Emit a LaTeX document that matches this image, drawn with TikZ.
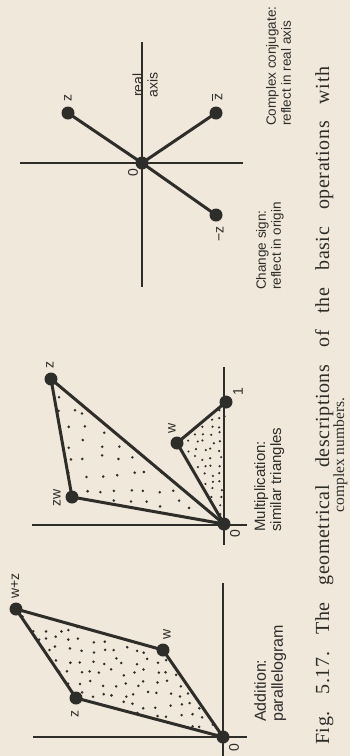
\documentclass[tikz,border=0pt]{standalone}
\usepackage{fontspec}
\setmainfont{Liberation Serif}
\setsansfont{Liberation Sans}
\definecolor{paper}{RGB}{240,232,218}
\definecolor{ink}{RGB}{45,45,42}
\newcommand\sfsz[2]{\sffamily\fontsize{#1}{#2}\selectfont}
\begin{document}
\begin{tikzpicture}[x=1pt,y=-1pt,
  axisline/.style={draw=ink,line width=1.7pt},
  polyline/.style={draw=ink,line width=3pt,line join=round,line cap=round},
  bigdot/.style={circle,fill=ink,minimum size=13pt,inner sep=0pt},
  ptlabel/.style={font=\sffamily\fontsize{14}{15}\selectfont,text=ink,rotate=90,inner sep=0pt},
  desctext/.style={text=ink,rotate=90,anchor=north west,align=left,inner sep=0pt},
  captext/.style={text=ink,rotate=90,anchor=base west,inner sep=0pt}
]
\useasboundingbox (0,0) rectangle (350,756);
\fill[paper] (0,0) rectangle (350,756);

% ---------- coordinates ----------
% addition
\coordinate (O1) at (223,737);
\coordinate (z1) at (76,698);
\coordinate (w1) at (163,650);
\coordinate (wz) at (16,609);
% multiplication
\coordinate (O2) at (224,524);
\coordinate (z2) at (51,379);
\coordinate (one) at (226,402);
\coordinate (w2) at (177,443);
\coordinate (zw) at (72,497);
% sign / conjugate
\coordinate (O3) at (142,163);
\coordinate (z3) at (68,113);
\coordinate (zb) at (216,113);
\coordinate (mz) at (216,215);

% axis ends
\coordinate (a1l) at (33,737);  \coordinate (a1r) at (247,737);
\coordinate (a1t) at (223,583); \coordinate (a1b) at (223,756);
\coordinate (a2l) at (32,525);  \coordinate (a2r) at (247,525);
\coordinate (a2t) at (224,367); \coordinate (a2b) at (224,545);
\coordinate (a3l) at (20,163);  \coordinate (a3r) at (243,163);
\coordinate (a3t) at (142,42);  \coordinate (a3b) at (142,287);

% ---------- axes ----------
\draw[axisline] (a1l) -- (a1r);
\draw[axisline] (a1t) -- (a1b);
\draw[axisline] (a2l) -- (a2r);
\draw[axisline] (a2t) -- (a2b);
\draw[axisline] (a3l) -- (a3r);
\draw[axisline] (a3t) -- (a3b);

% ---------- stippling ----------
\pgfmathsetseed{17}
\begin{scope}
  \clip (O1) -- (z1) -- (wz) -- (w1) -- cycle;
  \foreach \i in {0,...,19}{\foreach \j in {0,...,12}{
    \pgfmathsetmacro\xx{14+11*\i+3.5*rand}
    \pgfmathsetmacro\yy{606+11*\j+3.5*rand}
    \fill[ink] (\xx,\yy) circle[radius=1.4pt];
  }}
\end{scope}
\begin{scope}
  \clip (O2) -- (z2) -- (zw) -- cycle;
  \foreach \i in {0,...,12}{\foreach \j in {0,...,10}{
    \pgfmathsetmacro\xx{56+15*\i+4*rand}
    \pgfmathsetmacro\yy{384+15*\j+4*rand}
    \fill[ink] (\xx,\yy) circle[radius=1.4pt];
  }}
\end{scope}
\begin{scope}
  \clip (O2) -- (one) -- (w2) -- cycle;
  \foreach \i in {0,...,6}{\foreach \j in {0,...,16}{
    \pgfmathsetmacro\xx{180+8*\i+2*rand}
    \pgfmathsetmacro\yy{402+8*\j+2*rand}
    \fill[ink] (\xx,\yy) circle[radius=1.2pt];
  }}
\end{scope}

% ---------- figure edges ----------
\draw[polyline] (O1) -- (z1) -- (wz) -- (w1) -- cycle;
\draw[polyline] (O2) -- (z2) -- (zw) -- cycle;
\draw[polyline] (O2) -- (w2) -- (one);
\draw[polyline] (z3) -- (O3) -- (mz);
\draw[polyline] (O3) -- (zb);

% ---------- points ----------
\node[bigdot] (pO1) at (O1) {};
\node[bigdot] (pz1) at (z1) {};
\node[bigdot] (pw1) at (w1) {};
\node[bigdot] (pwz) at (wz) {};
\node[bigdot] (pO2) at (O2) {};
\node[bigdot] (pz2) at (z2) {};
\node[bigdot] (pone) at (one) {};
\node[bigdot] (pw2) at (w2) {};
\node[bigdot] (pzw) at (zw) {};
\node[bigdot] (pO3) at (O3) {};
\node[bigdot] (pz3) at (z3) {};
\node[bigdot] (pzb) at (zb) {};
\node[bigdot] (pmz) at (mz) {};

% ---------- point labels ----------
\node[ptlabel] (l01) at (234,748) {0};
\node[ptlabel] (lz1) at (75,714) {z};
\node[ptlabel] (lw1) at (167,634) {w};
\node[ptlabel] (lwz) at (15,586) {w+z};
\node[ptlabel] (l02) at (235,534) {0};
\node[ptlabel] (lz2) at (50,365) {z};
\node[ptlabel] (l1) at (238,392) {1};
\node[ptlabel] (lw2) at (172,428) {w};
\node[ptlabel] (lzw) at (57,498) {zw};
\node[ptlabel] (l03) at (133,173) {0};
\node[ptlabel] (lz3) at (68,98) {z};
\node[ptlabel] (lzb) at (217,97) {\rlap{\rule[9.6pt]{7pt}{0.9pt}}z};
\node[ptlabel] (lmz) at (220,234) {−z};
\node[ptlabel,align=center] (lreal) at (145,85) {real\\axis};

% ---------- descriptions ----------
\node[desctext,font=\sfsz{16}{17}] (addlab) at (254,722) {Addition:\\parallelogram};
\node[desctext,font=\sfsz{15}{16}] (mullab) at (254,532) {Multiplication:\\similar triangles};
\node[desctext,font=\sfsz{13.5}{15}] (neglab) at (256,290) {Change sign:\\reflect in origin};
\node[desctext,font=\sfsz{13.5}{15}] (conjlab) at (266,126) {Complex conjugate:\\reflect in real axis};

% ---------- caption ----------
\node[captext,font=\rmfamily\fontsize{20}{21}\selectfont] (cap1) at (329,745)
  {\addfontfeature{LetterSpace=3}\makebox[678pt][s]{Fig.\hfill 5.17.\hfill The\hfill geometrical\hfill descriptions\hfill of\hfill the\hfill basic\hfill operations\hfill with}};
\node[captext,anchor=base,font=\rmfamily\fontsize{15.5}{16}\selectfont] (cap2) at (344,455) {complex numbers.};
\end{tikzpicture}
\end{document}
